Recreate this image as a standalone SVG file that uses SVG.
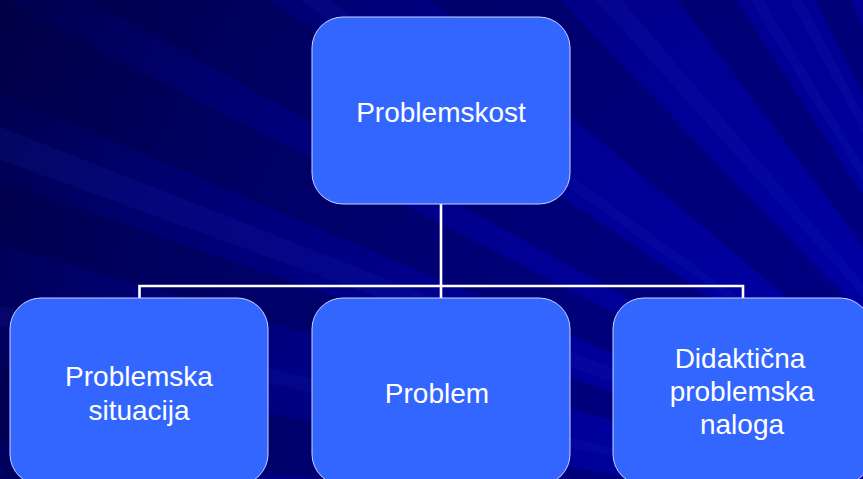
<svg xmlns="http://www.w3.org/2000/svg" width="863" height="479" viewBox="0 0 863 479">
<defs>
<radialGradient id="bg" gradientUnits="userSpaceOnUse" cx="1000" cy="520" r="1200">
<stop offset="0" stop-color="#0000b0"/>
<stop offset="0.45" stop-color="#000094"/>
<stop offset="0.75" stop-color="#000070"/>
<stop offset="1" stop-color="#000040"/>
</radialGradient>
<style>
.dk{fill:#000038;opacity:0.3}
.lt{fill:#1a2ac0;opacity:0.14}
.box{fill:#3366ff;stroke:#c9d3ff;stroke-width:1}
.lbl{font-family:"Liberation Sans",Arial,sans-serif;font-size:28px;fill:#ffffff;text-anchor:middle}
.con{fill:none;stroke:#ffffff;stroke-width:2.6}
</style>
</defs>
<g id="background">
<rect x="0" y="0" width="863" height="479" fill="url(#bg)"/>
<polygon class="dk" points="1100,560 -889.0,350.9 -869.6,212.7"/>
<polygon class="dk" points="1100,560 -822.5,8.7 -791.0,-91.1"/>
<polygon class="dk" points="1100,560 -741.0,-221.5 -682.0,-348.0"/>
<polygon class="dk" points="1100,560 -649.2,-409.6 -558.1,-558.4"/>
<polygon class="dk" points="1100,560 -432.1,-725.6 -289.3,-878.7"/>
<polygon class="dk" points="1100,560 -103.6,-1037.3 10.7,-1117.3"/>
<polygon class="dk" points="1100,560 192.0,-1222.0 286.5,-1267.1"/>
<polygon class="lt" points="1100,560 -856.3,144.2 -848.7,110.1"/>
<polygon class="lt" points="1100,560 -779.4,-124.0 -760.8,-173.0"/>
<polygon class="lt" points="1100,560 -538.3,-587.2 -518.0,-615.6"/>
<polygon class="lt" points="1100,560 -238.3,-926.3 -198.9,-960.8"/>
<polygon class="lt" points="1100,560 40.2,-1136.1 69.9,-1154.3"/>
<polygon class="lt" points="1100,560 130.4,-1189.2 161.1,-1205.9"/>
</g>
<g id="connectors">
<path class="con" d="M441,204 V298 M139.5,298 V286 H743 V298"/>
</g>
<g id="node-problemskost">
<rect class="box" x="312" y="17" width="258" height="187" rx="31" ry="31"/>
<text class="lbl" x="441" y="122">Problemskost</text>
</g>
<g id="node-problemska-situacija">
<rect class="box" x="10" y="298" width="258" height="187" rx="31" ry="31"/>
<text class="lbl" x="139" y="386">Problemska</text>
<text class="lbl" x="139" y="420">situacija</text>
</g>
<g id="node-problem">
<rect class="box" x="312" y="298" width="258" height="187" rx="31" ry="31"/>
<text class="lbl" x="437" y="402.5">Problem</text>
</g>
<g id="node-didakticna">
<rect class="box" x="613" y="298" width="258" height="187" rx="31" ry="31"/>
<text class="lbl" x="740" y="368">Didaktična</text>
<text class="lbl" x="742" y="401">problemska</text>
<text class="lbl" x="742" y="434">naloga</text>
</g>
</svg>
